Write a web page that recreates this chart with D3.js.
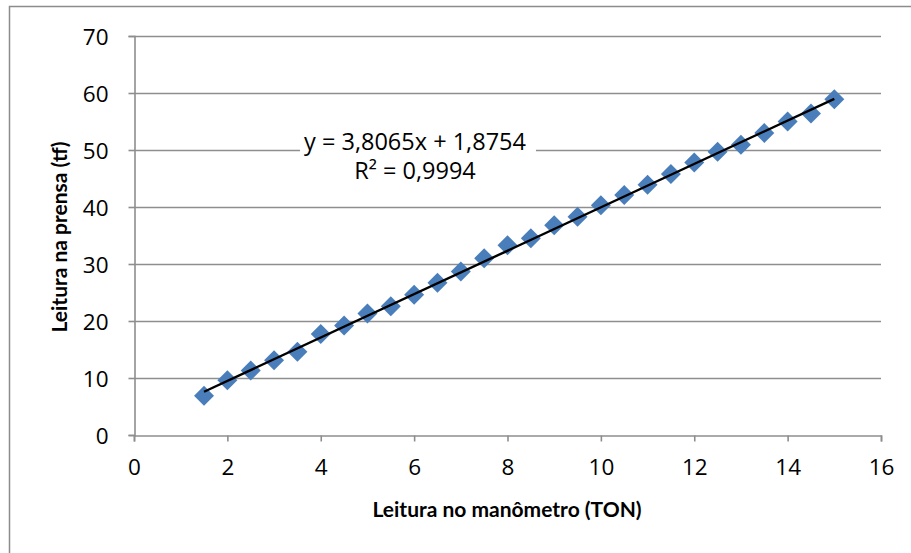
<!DOCTYPE html>
<html>
<head>
<meta charset="utf-8">
<script src="https://cdn.jsdelivr.net/npm/d3@7"></script>
<style>
  html, body { margin: 0; padding: 0; background: #fff; }
  svg { display: block; }
  text { font-family: "Open Sans", Lato, "Liberation Sans", sans-serif; fill: #000; }
  .title { font-family: Lato, "Open Sans", sans-serif; }
</style>
</head>
<body>
<svg id="chart" width="911" height="553"></svg>
<script>
// Manometer reading (TON) vs. press reading (tf)
const manometro = [1.5, 2, 2.5, 3, 3.5, 4, 4.5, 5, 5.5, 6, 6.5, 7, 7.5, 8, 8.5, 9, 9.5, 10,
                   10.5, 11, 11.5, 12, 12.5, 13, 13.5, 14, 14.5, 15];
const prensa = [6.9, 9.6, 11.3, 13.1, 14.6, 17.7, 19.2, 21.3, 22.6, 24.6, 26.7, 28.7, 31.0, 33.3,
                34.5, 36.8, 38.3, 40.3, 42.1, 43.9, 45.8, 47.8, 49.7, 50.9, 53.0, 55.0, 56.4, 58.9];

// Linear trendline
const slope = 3.8065;
const intercept = 1.8754;
const r2 = 0.9994;
const trendRange = [1.5, 15];

const xTicks = [0, 2, 4, 6, 8, 10, 12, 14, 16];
const yTicks = [0, 10, 20, 30, 40, 50, 60, 70];

const xTitle = "Leitura no manômetro (TON)";
const yTitle = "Leitura na prensa (tf)";

const fmt = v => v.toFixed(4).replace(".", ",");

const svg = d3.select("#chart");
const plot = { left: 134, right: 881, top: 36, bottom: 435 };

const x = d3.scaleLinear().domain([0, 16]).range([plot.left, plot.right]);
const y = d3.scaleLinear().domain([0, 70]).range([plot.bottom, plot.top]);

// outer chart frame
svg.append("rect")
  .attr("x", 9.5).attr("y", 6.5)
  .attr("width", 1000).attr("height", 1000)
  .attr("fill", "none").attr("stroke", "#8c8c8c").attr("stroke-width", 1.5);

// horizontal gridlines
svg.append("g").selectAll("line")
  .data(yTicks.filter(d => d > 0))
  .join("line")
  .attr("x1", plot.left).attr("x2", plot.right)
  .attr("y1", d => Math.round(y(d)) + 0.5).attr("y2", d => Math.round(y(d)) + 0.5)
  .attr("stroke", "#8e8e8e").attr("stroke-width", 1.6);

// axes
const xAxis = svg.append("g")
  .attr("transform", `translate(0,${plot.bottom + 0.5})`)
  .call(d3.axisBottom(x).tickValues(xTicks).tickSize(6).tickPadding(18).tickFormat(d3.format("d")));
const yAxis = svg.append("g")
  .attr("transform", `translate(${plot.left + 0.5},0)`)
  .call(d3.axisLeft(y).tickValues(yTicks).tickSize(6).tickPadding(20).tickFormat(d3.format("d")));

[xAxis, yAxis].forEach(g => {
  g.select(".domain").attr("stroke", "#8e8e8e").attr("stroke-width", 1.6);
  g.selectAll(".tick line").attr("stroke", "#8e8e8e").attr("stroke-width", 1.6);
  g.selectAll(".tick text").attr("font-size", 22.5).attr("fill", "#000")
    .style("font-family", "'Open Sans', Lato, sans-serif");
});
yAxis.selectAll(".tick text").attr("dy", "0.36em");

// data markers (diamonds)
const half = 10;
const diamond = `M0,${-half}L${half},0L0,${half}L${-half},0Z`;
svg.append("g").selectAll("path")
  .data(manometro.map((m, i) => [m, prensa[i]]))
  .join("path")
  .attr("d", diamond)
  .attr("transform", d => `translate(${x(d[0])},${y(d[1])})`)
  .attr("fill", "#4a7ebb");

// trendline
svg.append("line")
  .attr("x1", x(trendRange[0])).attr("y1", y(slope * trendRange[0] + intercept))
  .attr("x2", x(trendRange[1])).attr("y2", y(slope * trendRange[1] + intercept))
  .attr("stroke", "#000").attr("stroke-width", 2.4);

// equation label
const eq = svg.append("g");
const eqBox = eq.append("rect").attr("fill", "#fff");
const l1 = eq.append("text").attr("x", 415).attr("y", 150).attr("text-anchor", "middle")
  .attr("font-size", 23.5).text(`y = ${fmt(slope)}x + ${fmt(intercept)}`);
const l2 = eq.append("text").attr("x", 415).attr("y", 179).attr("text-anchor", "middle")
  .attr("font-size", 23.5).text(`R² = ${fmt(r2)}`);
const b = l1.node().getBBox();
eqBox.attr("x", b.x - 4).attr("y", b.y).attr("width", b.width + 14).attr("height", 55);

// axis titles
svg.append("text").attr("class", "title")
  .attr("x", 507).attr("y", 517).attr("text-anchor", "middle")
  .attr("font-size", 21).attr("font-weight", "bold").text(xTitle);
svg.append("text").attr("class", "title")
  .attr("transform", "translate(67,237) rotate(-90)")
  .attr("text-anchor", "middle")
  .attr("font-size", 21).attr("font-weight", "bold").text(yTitle);
</script>
</body>
</html>
